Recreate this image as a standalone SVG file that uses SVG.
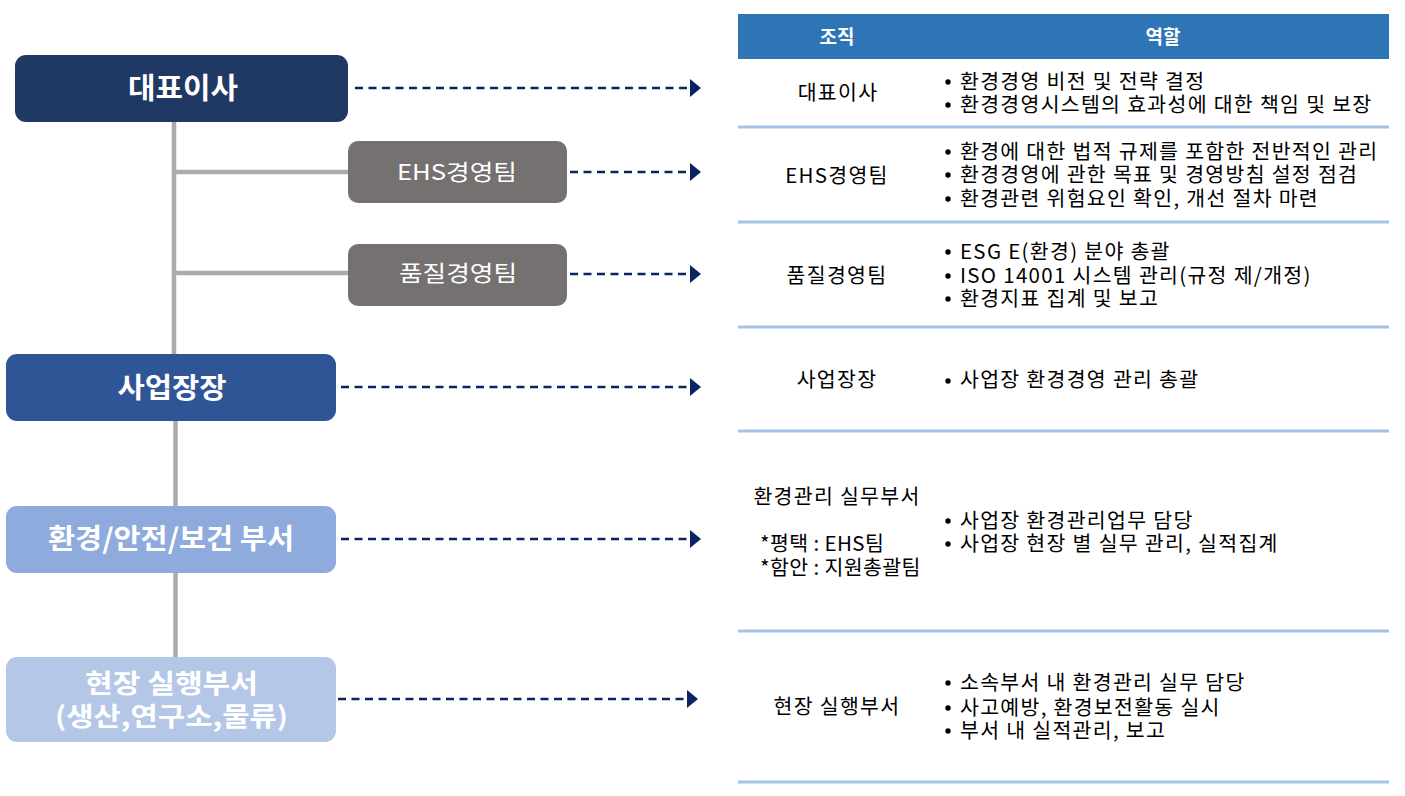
<svg xmlns="http://www.w3.org/2000/svg" width="1405" height="796" viewBox="0 0 1405 796">
<defs>
<style>
.lbl{font-family:"Noto Sans CJK KR","Noto Sans",sans-serif;fill:#fff;text-anchor:middle;font-weight:bold}
.lblr{font-family:"Noto Sans CJK KR","Noto Sans",sans-serif;fill:#fff;text-anchor:middle;font-weight:normal}
.hd{font-family:"Noto Sans CJK KR","Noto Sans",sans-serif;fill:#fff;text-anchor:middle;font-weight:bold;font-size:19px}
.c1{font-family:"Noto Sans CJK KR","Noto Sans",sans-serif;fill:#000;text-anchor:middle;font-size:20.5px;letter-spacing:1.3px}
.c1l{font-family:"Noto Sans CJK KR","Noto Sans",sans-serif;fill:#000;font-size:20.5px;letter-spacing:0.4px}
.c2{font-family:"Noto Sans CJK KR","Noto Sans",sans-serif;fill:#000;font-size:20.5px;letter-spacing:1.3px}
.bul{fill:#000}
.tree{stroke:#AEAAAA;stroke-width:4.5;fill:none}
.arr{stroke:#0A2463;stroke-width:2.3;stroke-dasharray:8 5.5;fill:none;marker-end:url(#ah)}
.sep{stroke:#A2C4E8;stroke-width:3}
</style>
<marker id="ah" viewBox="0 0 11 18" refX="3" refY="9" markerWidth="11" markerHeight="18" markerUnits="userSpaceOnUse" orient="auto">
<path d="M0,0 L11,9 L0,18 Z" fill="#0A2463"/>
</marker>
</defs>

<g id="connectors">
<line class="tree" x1="174" y1="121" x2="174" y2="354"/>
<line class="tree" x1="174" y1="172" x2="348" y2="172"/>
<line class="tree" x1="174" y1="273" x2="348" y2="273"/>
<line class="tree" x1="175.5" y1="420" x2="175.5" y2="506"/>
<line class="tree" x1="175.5" y1="572" x2="175.5" y2="658"/>
<line class="arr" x1="355" y1="88" x2="693" y2="88"/>
<line class="arr" x1="570" y1="172" x2="693" y2="172"/>
<line class="arr" x1="570" y1="274" x2="693" y2="274"/>
<line class="arr" x1="341" y1="387" x2="693" y2="387"/>
<line class="arr" x1="341" y1="539" x2="693" y2="539"/>
<line class="arr" x1="338" y1="699" x2="690" y2="699"/>
</g>

<g id="n-ceo">
<rect x="15" y="55" width="333" height="67" rx="11" fill="#203864"/>
<text class="lbl" x="183" y="99" font-size="29" textLength="110" lengthAdjust="spacingAndGlyphs">대표이사</text>
</g>
<g id="n-ehs">
<rect x="348" y="141" width="219" height="62" rx="10" fill="#767171"/>
<text class="lblr" x="457" y="180" font-size="22" textLength="120" lengthAdjust="spacingAndGlyphs">EHS경영팀</text>
</g>
<g id="n-qm">
<rect x="348" y="244" width="219" height="62" rx="10" fill="#767171"/>
<text class="lblr" x="458" y="281" font-size="22" textLength="118" lengthAdjust="spacingAndGlyphs">품질경영팀</text>
</g>
<g id="n-site">
<rect x="6" y="354" width="330" height="67" rx="11" fill="#2F5597"/>
<text class="lbl" x="172" y="398" font-size="28" textLength="109" lengthAdjust="spacingAndGlyphs">사업장장</text>
</g>
<g id="n-env">
<rect x="6" y="506" width="330" height="67" rx="11" fill="#8FAADC"/>
<text class="lbl" x="171" y="549" font-size="28" textLength="246" lengthAdjust="spacingAndGlyphs">환경/안전/보건 부서</text>
</g>
<g id="n-field">
<rect x="6" y="657" width="330" height="85" rx="11" fill="#B4C7E7"/>
<text class="lbl" x="171.5" y="693" font-size="26" textLength="173" lengthAdjust="spacingAndGlyphs">현장 실행부서</text>
<text class="lbl" x="171.5" y="726" font-size="26" textLength="233" lengthAdjust="spacingAndGlyphs">(생산,연구소,물류)</text>
</g>

<g id="table">
<rect x="738" y="14" width="651" height="45" fill="#2E75B6"/>
<text class="hd" x="837" y="44">조직</text>
<text class="hd" x="1163" y="44">역할</text>
<line class="sep" x1="738" y1="127" x2="1389" y2="127"/>
<line class="sep" x1="738" y1="222" x2="1389" y2="222"/>
<line class="sep" x1="738" y1="327" x2="1389" y2="327"/>
<line class="sep" x1="738" y1="431" x2="1389" y2="431"/>
<line class="sep" x1="738" y1="631" x2="1389" y2="631"/>
<line class="sep" x1="738" y1="782" x2="1389" y2="782"/>

<text class="c1" x="838" y="100">대표이사</text>
<circle class="bul" cx="948" cy="82" r="2.7"/>
<text class="c2" x="960" y="89">환경경영 비전 및 전략 결정</text>
<circle class="bul" cx="948" cy="105" r="2.7"/>
<text class="c2" x="960" y="112">환경경영시스템의 효과성에 대한 책임 및 보장</text>

<text class="c1" x="837" y="183">EHS경영팀</text>
<circle class="bul" cx="948" cy="152" r="2.7"/>
<text class="c2" x="960" y="159">환경에 대한 법적 규제를 포함한 전반적인 관리</text>
<circle class="bul" cx="948" cy="175" r="2.7"/>
<text class="c2" x="960" y="182">환경경영에 관한 목표 및 경영방침 설정 점검</text>
<circle class="bul" cx="948" cy="199" r="2.7"/>
<text class="c2" x="960" y="206">환경관련 위험요인 확인, 개선 절차 마련</text>

<text class="c1" x="837" y="283">품질경영팀</text>
<circle class="bul" cx="948" cy="252" r="2.7"/>
<text class="c2" x="960" y="259">ESG E(환경) 분야 총괄</text>
<circle class="bul" cx="948" cy="276" r="2.7"/>
<text class="c2" x="960" y="283">ISO 14001 시스템 관리(규정 제/개정)</text>
<circle class="bul" cx="948" cy="299" r="2.7"/>
<text class="c2" x="960" y="306">환경지표 집계 및 보고</text>

<text class="c1" x="837" y="387">사업장장</text>
<circle class="bul" cx="948" cy="381" r="2.7"/>
<text class="c2" x="960" y="387">사업장 환경경영 관리 총괄</text>

<text class="c1" x="837" y="504">환경관리 실무부서</text>
<text class="c1l" x="760" y="551">*평택 : EHS팀</text>
<text class="c1l" x="760" y="575">*함안 : 지원총괄팀</text>
<circle class="bul" cx="948" cy="521" r="2.7"/>
<text class="c2" x="960" y="528">사업장 환경관리업무 담당</text>
<circle class="bul" cx="948" cy="544" r="2.7"/>
<text class="c2" x="960" y="551">사업장 현장 별 실무 관리, 실적집계</text>

<text class="c1" x="837" y="714">현장 실행부서</text>
<circle class="bul" cx="948" cy="683" r="2.7"/>
<text class="c2" x="960" y="690">소속부서 내 환경관리 실무 담당</text>
<circle class="bul" cx="948" cy="708" r="2.7"/>
<text class="c2" x="960" y="715">사고예방, 환경보전활동 실시</text>
<circle class="bul" cx="948" cy="731" r="2.7"/>
<text class="c2" x="960" y="738">부서 내 실적관리, 보고</text>
</g>
</svg>
